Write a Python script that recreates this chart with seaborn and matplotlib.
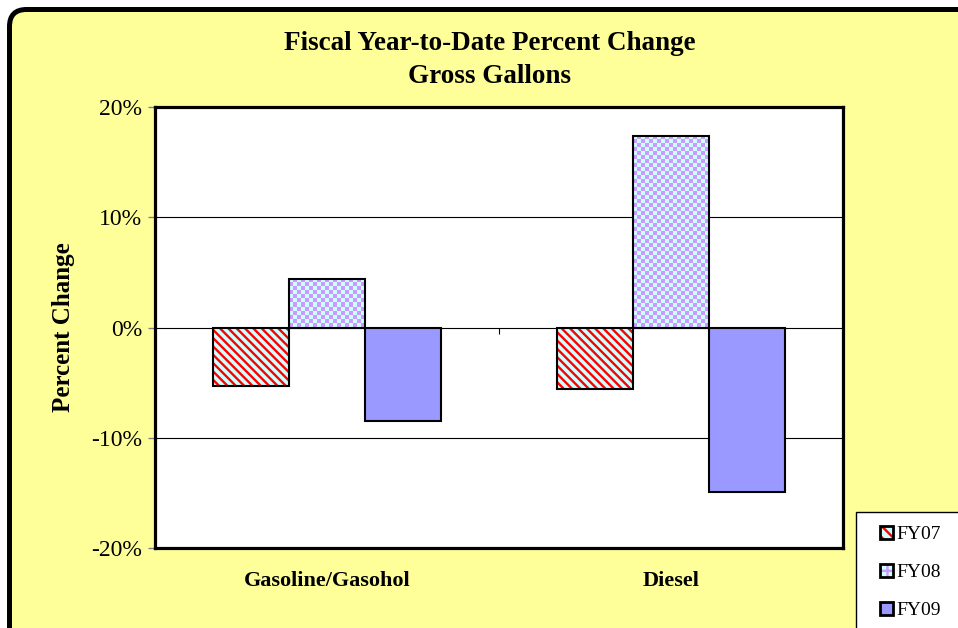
import numpy as np
import pandas as pd
import matplotlib.pyplot as plt
import seaborn as sns
from matplotlib.patches import FancyBboxPatch, Rectangle
from matplotlib.colors import ListedColormap
from matplotlib.legend_handler import HandlerTuple

fuels = ['Gasoline/Gasohol', 'Diesel']
years = ['FY07', 'FY08', 'FY09']
fy07 = [-5.3, -5.6]
fy08 = [4.4, 17.4]
fy09 = [-8.5, -14.9]

df = pd.DataFrame({
    'Fuel': fuels * 3,
    'Year': [y for y in years for _ in fuels],
    'Change': fy07 + fy08 + fy09,
})

sns.set_style('white')
plt.rcParams['font.family'] = ['Liberation Serif', 'DejaVu Serif']
plt.rcParams['hatch.linewidth'] = 1.7
for k in ['text.color', 'axes.labelcolor', 'xtick.color', 'ytick.color']:
    plt.rcParams[k] = 'black'

cyan = '#CCFFFF'
purple = '#CC99FF'
blue = '#9999FF'

fig = plt.figure(figsize=(9.58, 6.28), dpi=100)
fig.patch.set_facecolor('white')

# yellow rounded chart area, running off the right/bottom edge
bg = FancyBboxPatch((0.095, -0.6), 10, 6.28 - 0.095 + 0.6,
                    boxstyle='round,pad=0,rounding_size=0.17',
                    transform=fig.dpi_scale_trans, facecolor='#FFFF99',
                    edgecolor='black', linewidth=3.6, zorder=-5)
fig.patches.append(bg)

ax = fig.add_axes([155 / 958, 80 / 628, 688 / 958, 441 / 628])
ax.set_facecolor('white')

sns.barplot(data=df, x='Fuel', y='Change', hue='Year',
            palette=[cyan, cyan, blue], saturation=1, width=0.66,
            edgecolor='black', linewidth=1.5, legend=False, ax=ax)

ax.set_ylim(-20, 20)
ax.set_xlim(-0.5, 1.5)

bars = list(ax.patches)
for i, p in enumerate(bars):
    level = i // len(fuels)
    x0, y0, w, h = p.get_x(), p.get_y(), p.get_width(), p.get_height()
    if level == 0:
        p.set_hatch('\\\\\\\\')
        p.set_edgecolor('red')
        p.set_linewidth(0)
        ax.add_patch(Rectangle((x0, y0), w, h, fill=False, edgecolor='black',
                               linewidth=1.5, zorder=p.get_zorder() + 0.1))
    elif level == 1:
        fig.canvas.draw()
        bb = p.get_window_extent()
        nc = max(1, int(round(bb.width / 4.0)))
        nr = max(1, int(round(bb.height / 4.0)))
        checker = (np.add.outer(np.arange(nr), np.arange(nc)) % 2)
        im = ax.imshow(checker, cmap=ListedColormap([cyan, purple]),
                       extent=(x0, x0 + w, y0, y0 + h), aspect='auto',
                       interpolation='nearest', zorder=p.get_zorder())
        im.set_clip_path(p)
        p.set_facecolor('none')
        p.set_zorder(p.get_zorder() + 0.1)

ax.set_ylim(-20, 20)
ax.set_xlim(-0.5, 1.5)
ax.set_aspect('auto')

ax.set_yticks([-20, -10, 0, 10, 20])
ax.set_yticklabels([f'{v}%' for v in [-20, -10, 0, 10, 20]], fontsize=17)
ax.yaxis.grid(True, color='black', linewidth=0.8)
ax.set_axisbelow(True)
ax.tick_params(axis='y', left=True, length=5, width=1, color='gray', pad=4)
ax.tick_params(axis='x', bottom=False, pad=13)
for lab in ax.get_xticklabels():
    lab.set_fontweight('bold')
    lab.set_fontsize(16)
# tick mark between categories on the zero line
ax.vlines(0.5, -0.55, 0, color='black', linewidth=0.8)

for s in ax.spines.values():
    s.set_visible(True)
    s.set_color('black')
    s.set_linewidth(2.3)

ax.set_xlabel('')
ax.set_ylabel('Percent Change', fontsize=18, fontweight='bold', labelpad=12)

fig.text(490 / 958, 1 - 60 / 628,
         'Fiscal Year-to-Date Percent Change\nGross Gallons',
         ha='center', va='center', fontsize=19.5, fontweight='bold',
         linespacing=1.45)

# legend frame, running off the right/bottom edge like the chart area
frame = Rectangle((8.555, -0.2), 2, 0.2 + 1.16, transform=fig.dpi_scale_trans,
                  facecolor='white', edgecolor='black', linewidth=1, zorder=-1)
fig.patches.append(frame)

h07 = (Rectangle((0, 0), 1, 1, facecolor=cyan, edgecolor='red', hatch='\\\\\\', linewidth=0),
       Rectangle((0, 0), 1, 1, fill=False, edgecolor='black', linewidth=2))
h08 = (Rectangle((0, 0), 1, 1, facecolor=cyan, edgecolor=purple, hatch='++', linewidth=0),
       Rectangle((0, 0), 1, 1, fill=False, edgecolor='black', linewidth=2))
h09 = Rectangle((0, 0), 1, 1, facecolor=blue, edgecolor='black', linewidth=2)
leg = fig.legend([h07, h08, h09], years, loc='upper left',
                 bbox_to_anchor=(880 / 958, 1 - 526 / 628),
                 bbox_transform=fig.transFigure, borderaxespad=0,
                 frameon=False, fontsize=14, handlelength=0.65,
                 handleheight=0.65, handletextpad=0.2, labelspacing=1.06,
                 borderpad=0,
                 handler_map={tuple: HandlerTuple(ndivide=1, pad=0)})

fig.savefig('out.png', dpi=100)
